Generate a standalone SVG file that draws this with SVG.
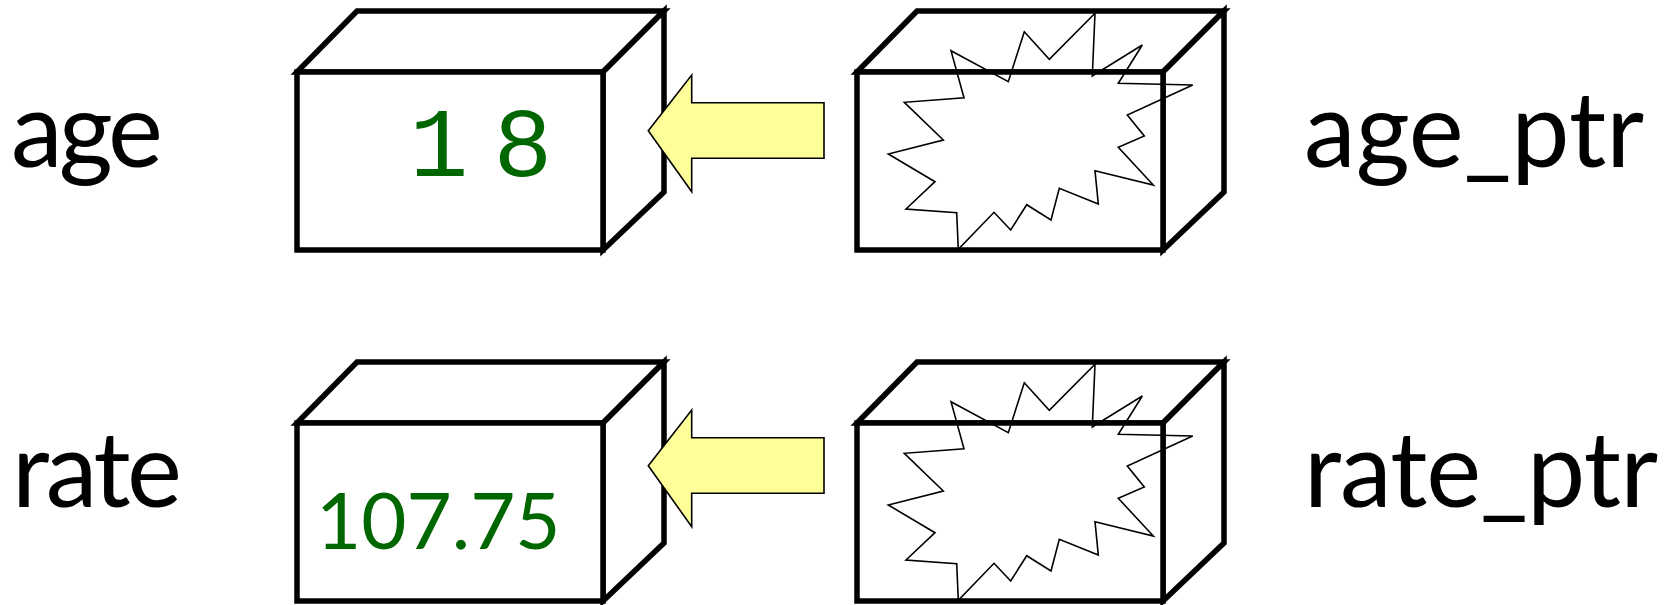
<svg xmlns="http://www.w3.org/2000/svg" width="1665" height="605" viewBox="0 0 1665 605">
<defs>
<style>
.face{fill:#fff;stroke:#000;stroke-width:5.5;stroke-linejoin:miter}
.star{fill:none;stroke:#000;stroke-width:1.6;stroke-linejoin:miter}
.arrow{fill:#FFFF99;stroke:#000;stroke-width:1.6}
.lbl{font-family:Lato,"Liberation Sans",sans-serif;font-size:104px;fill:#000}
.val{fill:#006600}
</style>
<g id="box">
<path class="face" d="M297,72 L357,11 L664,11 L603,72 Z"/>
<path class="face" d="M603,72 L664,11 L664,192 L603,250 Z"/>
<rect class="face" x="297" y="72" width="306" height="178"/>
</g>
<polygon id="burst" class="star" points="951,50.7 1008.3,81.7 1024.3,31.7 1049.3,59.3 1095,13.3 1092.3,76 1142.3,45 1118.3,83.3 1192.7,85 1127.3,115 1144.3,136 1118.3,147.3 1153.3,185 1095,170.7 1098.3,204 1059.3,188.3 1051,220 1026.7,204.7 1010.7,230 994,212.3 958.3,249.3 956.7,212.7 906,209 935,181.7 888.3,154 943.3,140 904.3,102.3 964,97.7"/>
<path id="arr" class="arrow" d="M648.3,130.7 L691.7,75 L691.7,102.7 L824,102.7 L824,158.3 L691.7,158.3 L691.7,191.7 Z"/>
</defs>

<g id="label-age"><text class="lbl" x="11" y="167" textLength="152">age</text></g>
<g id="label-age_ptr"><text class="lbl" x="1304" y="167" textLength="340">age_ptr</text></g>
<g id="label-rate"><text class="lbl" x="12" y="507" textLength="170">rate</text></g>
<g id="label-rate_ptr"><text class="lbl" x="1304" y="507" textLength="354">rate_ptr</text></g>

<g id="node-age">
<use href="#box"/>
<text class="val" x="409.6" y="176" font-family="'Liberation Mono',monospace" font-size="98" word-spacing="-33.6">1 8</text>
</g>
<g id="node-age_ptr">
<use href="#box" transform="translate(560,0)"/>
<use href="#burst"/>
</g>
<g id="node-rate">
<use href="#box" transform="translate(0,351)"/>
<text class="val" x="316" y="549" font-family="Lato,'Liberation Sans',sans-serif" font-size="78">107.75</text>
</g>
<g id="node-rate_ptr">
<use href="#box" transform="translate(560,351)"/>
<use href="#burst" transform="translate(0,351)"/>
</g>

<g id="connectors">
<use href="#arr"/>
<use href="#arr" transform="translate(0,335)"/>
</g>
</svg>
